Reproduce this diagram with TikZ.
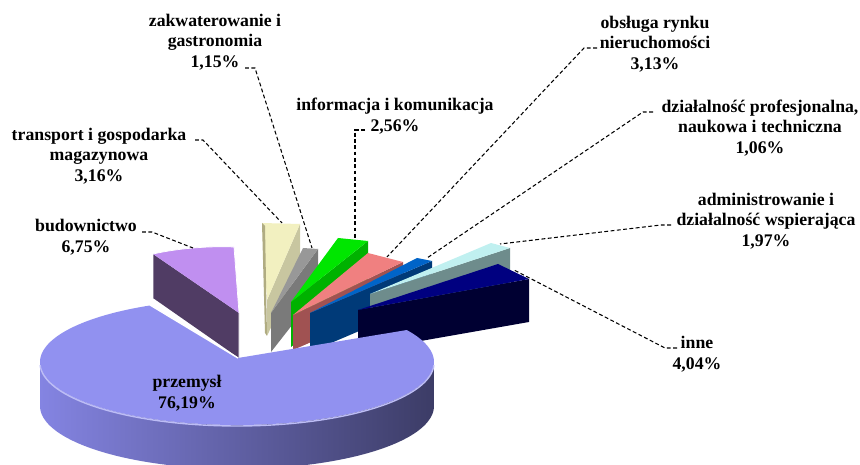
\documentclass[tikz,border=0pt]{standalone}
\usepackage{fontspec}
\setmainfont{Liberation Serif}
\definecolor{mainTop}{RGB}{145,145,240}
\definecolor{mainSideL}{RGB}{132,132,226}
\definecolor{mainSideR}{RGB}{60,60,102}
\definecolor{budTop}{RGB}{192,143,240}
\definecolor{budDark}{RGB}{80,60,100}
\definecolor{trTop}{RGB}{242,240,192}
\definecolor{trDark}{RGB}{200,198,160}
\definecolor{trSide}{RGB}{176,172,130}
\definecolor{zakTop}{RGB}{152,152,152}
\definecolor{zakDark}{RGB}{122,122,122}
\definecolor{infTop}{RGB}{0,230,0}
\definecolor{infDark}{RGB}{0,178,0}
\definecolor{obsTop}{RGB}{240,128,128}
\definecolor{obsDark}{RGB}{160,82,82}
\definecolor{dziTop}{RGB}{0,100,200}
\definecolor{dziDark}{RGB}{0,58,120}
\definecolor{admTop}{RGB}{192,240,240}
\definecolor{admDark}{RGB}{110,140,140}
\definecolor{innTop}{RGB}{0,0,128}
\definecolor{innDark}{RGB}{0,0,50}
\begin{document}
\begin{tikzpicture}[x=0.02cm, y=-0.02cm,
  lbl/.style={font=\fontsize{10.1}{11.7}\selectfont\bfseries, align=center, inner sep=0pt},
  lead/.style={line width=0.6pt, dash pattern=on 2.2pt off 1.4pt}
]
  \useasboundingbox (0,0) rectangle (860,465);
  \clip (0,0) rectangle (860,465);

  % budownictwo
  \fill[budDark] (153,254) -- (239,313) -- (239,358) -- (153,298) -- cycle;
  \fill[budTop] (153,254) .. controls (180,248) and (210,246) .. (234,247) -- (239,313) -- cycle;
  \draw[white, line width=0.4pt] (153,298) -- (153,254) .. controls (180,248) and (210,246) .. (234,247) -- (239,313) -- (239,358);

  % transport
  \fill[trDark] (300,224) -- (267,300) -- (267,336) -- (300,266) -- cycle;
  \fill[trTop] (262,223) -- (300,224) -- (267,300) -- cycle;
  \fill[trSide] (262,223) -- (265,226) -- (267,336) -- (265,333) -- cycle;

  % zakwaterowanie
  \fill[zakDark] (318,249) -- (271,313) -- (271,352) -- (318,292) -- cycle;
  \fill[zakTop] (303,248) -- (318,249) -- (271,313) -- cycle;

  % informacja
  \fill[infDark] (368,241) -- (291,302) -- (291,347) -- (368,285) -- cycle;
  \fill[infTop] (338,238) -- (368,241) -- (291,302) -- cycle;

  % obsluga rynku
  \fill[obsDark] (403,262) -- (293,315) -- (293,350) -- (403,302) -- cycle;
  \fill[obsTop] (368,253) -- (403,262) -- (293,315) -- cycle;

  % dzialalnosc profesjonalna
  \fill[dziDark] (432,261) -- (310,313) -- (310,352) -- (432,300) -- cycle;
  \fill[dziTop] (417,258) -- (432,261) -- (310,313) -- cycle;

  % administrowanie
  \fill[admDark] (510,248) -- (370,294) -- (370,340) -- (510,292) -- cycle;
  \fill[admTop] (491,243) -- (510,248) -- (370,294) -- cycle;

  % inne
  \fill[innDark] (358,310) -- (529,279) -- (529,322) -- (358,352) -- cycle;
  \fill[innTop] (358,310) -- (498,264) -- (529,279) -- cycle;

  % przemysl
  \shade[left color=mainSideL, right color=mainSideR]
    plot[domain=180:360, samples=90] ({237+197*cos(\x)},{362-63*sin(\x)})
    -- plot[domain=360:180, samples=90] ({237+197*cos(\x)},{406-63*sin(\x)}) -- cycle;
  \fill[mainTop] (238,358) -- plot[domain=116:390.5, samples=140] ({237+197*cos(\x)},{362-63*sin(\x)}) -- cycle;
  \draw[mainTop!60!white, line width=0.8pt] plot[domain=182:358, samples=90] ({237+197*cos(\x)},{363-63*sin(\x)});
  \draw[white, line width=0.8pt] (150,305) -- (238,358);

  % labels
  \node[lbl] (przem) at (187,393) {przemysł\\76,19\%};
  \node[lbl] (zakw) at (215,42) {zakwaterowanie i\\gastronomia\\1,15\%};
  \node[lbl] (transp) at (99,156) {transport i gospodarka\\magazynowa\\3,16\%};
  \node[lbl] (budow) at (86,237) {budownictwo\\6,75\%};
  \node[lbl] (info) at (395,116) {informacja i komunikacja\\2,56\%};
  \node[lbl] (obsl) at (655,44) {obsługa rynku\\nieruchomości\\3,13\%};
  \node[lbl] (dzial) at (760,128) {działalność profesjonalna,\\naukowa i techniczna\\1,06\%};
  \node[lbl] (admin) at (766,221) {administrowanie i\\działalność wspierająca\\1,97\%};
  \node[lbl] (inne) at (697,354) {inne\\4,04\%};

  % leader lines
  \coordinate (zakw-a) at (245,68);   \coordinate (zakw-b) at (312,248);
  \coordinate (transp-a) at (195,140); \coordinate (transp-b) at (282,223);
  \coordinate (budow-a) at (142,232);  \coordinate (budow-b) at (193,248);
  \coordinate (info-a) at (365,130);   \coordinate (info-b) at (355,238);
  \coordinate (obsl-a) at (597,48);    \coordinate (obsl-b) at (387,257);
  \coordinate (dzial-a) at (653,112);  \coordinate (dzial-b) at (427,258);
  \coordinate (admin-a) at (671,225);  \coordinate (admin-b) at (500,244);
  \coordinate (inne-a) at (677,348);   \coordinate (inne-b) at (514,270);

  \draw[lead] (zakw-a) -- ++(10,0) -- (zakw-b);
  \draw[lead] (transp-a) -- ++(8,0) -- (transp-b);
  \draw[lead] (budow-a) -- ++(10,0) -- (budow-b);
  \draw[lead] (info-a) -- ++(-10,0) -- (info-b);
  \draw[lead] (obsl-a) -- ++(-13,0) -- (obsl-b);
  \draw[lead] (dzial-a) -- ++(-10,0) -- (dzial-b);
  \draw[lead] (admin-a) -- ++(-10,0) -- (admin-b);
  \draw[lead] (inne-a) -- ++(-12,0) -- (inne-b);
\end{tikzpicture}
\end{document}
